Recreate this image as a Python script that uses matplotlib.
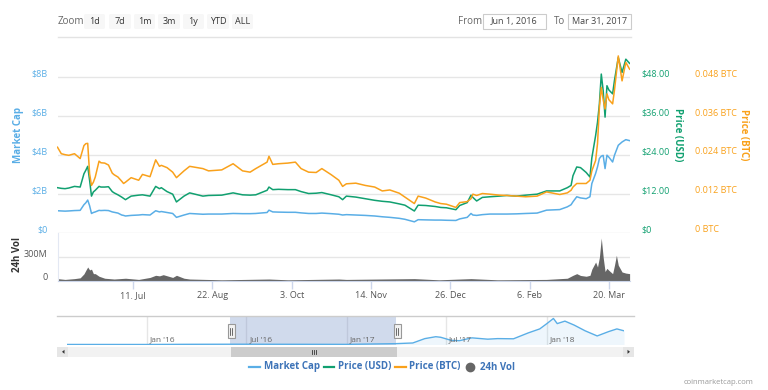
import numpy as np
import matplotlib
matplotlib.use('Agg')
import matplotlib.pyplot as plt
import matplotlib.dates as mdates
from matplotlib.patches import FancyBboxPatch, Rectangle, Polygon
from matplotlib.lines import Line2D
from matplotlib.transforms import ScaledTranslation, blended_transform_factory

plt.rcParams['font.family'] = ['Open Sans', 'DejaVu Sans']

# --- data ---
dates = ['2016-06-01', '2016-06-03', '2016-06-05', '2016-06-07', '2016-06-10', '2016-06-13',
         '2016-06-15', '2016-06-16', '2016-06-17', '2016-06-18', '2016-06-19', '2016-06-20',
         '2016-06-21', '2016-06-23', '2016-06-24', '2016-06-26', '2016-06-28', '2016-06-30',
         '2016-07-01', '2016-07-03', '2016-07-05', '2016-07-06', '2016-07-07', '2016-07-10',
         '2016-07-14', '2016-07-16', '2016-07-20', '2016-07-23', '2016-07-25', '2016-07-26',
         '2016-07-29', '2016-08-01', '2016-08-03', '2016-08-07', '2016-08-10', '2016-08-17',
         '2016-08-20', '2016-08-27', '2016-09-02', '2016-09-07', '2016-09-11', '2016-09-14',
         '2016-09-20', '2016-09-21', '2016-09-23', '2016-09-26', '2016-10-01', '2016-10-05',
         '2016-10-08', '2016-10-12', '2016-10-16', '2016-10-19', '2016-10-24', '2016-10-28',
         '2016-10-30', '2016-11-01', '2016-11-06', '2016-11-11', '2016-11-16', '2016-11-20',
         '2016-11-24', '2016-11-29', '2016-12-02', '2016-12-07', '2016-12-09', '2016-12-13',
         '2016-12-18', '2016-12-21', '2016-12-24', '2016-12-29', '2016-12-31', '2017-01-04',
         '2017-01-06', '2017-01-07', '2017-01-09', '2017-01-12', '2017-01-16', '2017-01-21',
         '2017-01-25', '2017-01-30', '2017-02-04', '2017-02-10', '2017-02-15', '2017-02-22',
         '2017-02-26', '2017-02-28', '2017-03-01', '2017-03-03', '2017-03-05', '2017-03-08',
         '2017-03-10', '2017-03-11', '2017-03-13', '2017-03-14', '2017-03-15', '2017-03-16',
         '2017-03-17', '2017-03-18', '2017-03-19', '2017-03-20', '2017-03-22', '2017-03-23',
         '2017-03-25', '2017-03-27', '2017-03-29', '2017-03-31']
market_cap_b = [1.13, 1.12, 1.11, 1.12, 1.14, 1.15, 1.44, 1.54, 1.68, 1.39, 0.99, 1.04,
                1.07, 1.15, 1.14, 1.15, 1.14, 1.07, 1.05, 1.01, 0.91, 0.89, 0.86, 0.89,
                0.91, 0.93, 0.91, 1.13, 1.07, 1.09, 1.04, 0.99, 0.79, 0.91, 0.99, 0.95,
                0.96, 0.96, 0.99, 0.98, 0.98, 0.99, 1.04, 1.16, 1.07, 1.06, 1.05, 1.05,
                1.02, 0.99, 0.99, 1.01, 0.98, 0.95, 0.91, 0.93, 0.91, 0.89, 0.86, 0.82,
                0.79, 0.74, 0.69, 0.56, 0.67, 0.66, 0.65, 0.65, 0.64, 0.63, 0.71, 0.79,
                0.99, 0.91, 0.89, 0.93, 0.96, 0.96, 0.96, 0.97, 0.99, 1.01, 1.16, 1.19,
                1.33, 1.44, 1.59, 1.85, 1.79, 1.75, 1.85, 2.53, 3.05, 3.39, 3.82, 3.94,
                3.98, 3.30, 3.99, 3.89, 3.64, 3.99, 4.50, 4.67, 4.79, 4.74]
price_usd = [13.9, 13.7, 13.6, 13.8, 14.3, 14.1, 18.2, 19.3, 20.5, 16.2, 11.3, 12.6,
             13.1, 14.3, 14.1, 14.1, 14.2, 12.7, 12.3, 11.7, 11.0, 10.6, 10.2, 11.3,
             11.6, 11.7, 11.3, 14.3, 13.6, 13.9, 12.7, 11.9, 9.5, 11.3, 12.3, 11.3,
             11.5, 11.6, 12.3, 11.7, 11.6, 11.7, 13.1, 14.1, 13.3, 13.4, 13.3, 13.3,
             12.7, 12.1, 12.2, 12.4, 11.7, 11.1, 10.2, 11.3, 11.0, 10.5, 10.0, 9.7,
             9.5, 8.9, 8.5, 6.7, 8.5, 8.4, 8.1, 7.8, 7.7, 7.1, 8.4, 9.3,
             11.6, 10.9, 9.8, 10.9, 11.1, 11.3, 11.5, 11.3, 11.6, 11.9, 12.9, 12.9,
             13.9, 14.6, 17.6, 20.3, 20.1, 18.6, 17.2, 23.1, 30.0, 34.1, 39.8, 49.0,
             43.9, 35.7, 45.4, 44.1, 42.9, 47.1, 54.1, 49.5, 53.6, 52.3]
price_btc = [0.0264, 0.0244, 0.0241, 0.0239, 0.0244, 0.0229, 0.0269, 0.0275, 0.0276, 0.0182, 0.0146, 0.0156,
             0.0172, 0.0221, 0.0216, 0.0215, 0.0209, 0.0184, 0.0179, 0.0172, 0.0159, 0.0152, 0.0156, 0.0170,
             0.0162, 0.0180, 0.0173, 0.0225, 0.0205, 0.0208, 0.0201, 0.0187, 0.0170, 0.0191, 0.0205, 0.0198,
             0.0191, 0.0194, 0.0213, 0.0191, 0.0187, 0.0198, 0.0218, 0.0236, 0.0211, 0.0213, 0.0215, 0.0218,
             0.0198, 0.0187, 0.0186, 0.0198, 0.0179, 0.0162, 0.0143, 0.0151, 0.0153, 0.0146, 0.0141, 0.0129,
             0.0132, 0.0122, 0.0110, 0.0090, 0.0113, 0.0107, 0.0095, 0.0090, 0.0088, 0.0078, 0.0093, 0.0096,
             0.0105, 0.0119, 0.0115, 0.0121, 0.0119, 0.0116, 0.0115, 0.0113, 0.0111, 0.0113, 0.0126, 0.0118,
             0.0123, 0.0131, 0.0141, 0.0152, 0.0152, 0.0152, 0.0162, 0.0191, 0.0223, 0.0275, 0.0387, 0.0449,
             0.0411, 0.0382, 0.0429, 0.0411, 0.0398, 0.0441, 0.0546, 0.0469, 0.0526, 0.0505]

vol_dates = ['2016-06-01', '2016-06-05', '2016-06-10', '2016-06-13', '2016-06-15', '2016-06-16',
             '2016-06-17', '2016-06-18', '2016-06-19', '2016-06-20', '2016-06-21', '2016-06-23',
             '2016-06-26', '2016-07-01', '2016-07-07', '2016-07-14', '2016-07-20', '2016-07-23',
             '2016-07-25', '2016-07-27', '2016-08-01', '2016-08-03', '2016-08-07', '2016-08-10',
             '2016-08-27', '2016-09-21', '2016-10-01', '2016-10-28', '2016-11-01', '2016-12-07',
             '2016-12-20', '2017-01-06', '2017-01-20', '2017-02-15', '2017-02-26', '2017-03-01',
             '2017-03-03', '2017-03-05', '2017-03-08', '2017-03-10', '2017-03-11', '2017-03-13',
             '2017-03-14', '2017-03-15', '2017-03-16', '2017-03-17', '2017-03-18', '2017-03-19',
             '2017-03-20', '2017-03-22', '2017-03-23', '2017-03-24', '2017-03-25', '2017-03-27',
             '2017-03-29', '2017-03-31']
volume_m = [30, 20, 30, 40, 90, 135, 177, 140, 150, 93, 93, 60,
            35, 25, 35, 20, 45, 72, 65, 80, 45, 72, 35, 25,
            15, 25, 15, 25, 20, 30, 15, 30, 15, 20, 35, 72,
            93, 70, 60, 72, 150, 240, 177, 300, 544, 300, 120, 160,
            135, 93, 200, 325, 200, 114, 100, 93]

nav_dates = ['2015-08-08', '2016-01-01', '2016-03-15', '2016-06-17', '2016-12-31', '2017-03-31',
             '2017-05-01', '2017-05-23', '2017-06-12', '2017-06-21', '2017-07-10', '2017-07-25',
             '2017-08-17', '2017-09-15', '2017-10-03', '2017-11-01', '2017-11-28', '2017-12-19',
             '2018-01-02', '2018-01-13', '2018-01-20', '2018-02-03', '2018-02-20', '2018-03-12',
             '2018-04-03', '2018-04-24', '2018-05-09', '2018-05-22']
nav_cap_b = [0.2, 0.1, 1.0, 1.5, 0.7, 4.5, 8, 31, 41, 38, 22, 20,
             35, 28, 31, 30, 61, 82, 112, 137, 110, 123, 102, 72,
             45, 68, 82, 72]

x_ticks = ['2016-07-11', '2016-08-22', '2016-10-03', '2016-11-14', '2016-12-26', '2017-02-06', '2017-03-20']
x_tick_labels = ['11. Jul', '22. Aug', '3. Oct', '14. Nov', '26. Dec', '6. Feb', '20. Mar']
nav_ticks = ['2016-01-01', '2016-07-01', '2017-01-01', '2017-07-01', '2018-01-01']
nav_tick_labels = ["Jan '16", "Jul '16", "Jan '17", "Jul '17", "Jan '18"]
zoom_buttons = ['1d', '7d', '1m', '3m', '1y', 'YTD', 'ALL']

BLUE = '#5aaee6'
GREEN = '#11a070'
ORANGE = '#f9a11b'
GRID = '#e6e6e6'

W, H = 768, 390


def to_num(ds):
    return mdates.date2num(np.array(ds, dtype='datetime64[h]'))


def fx(x):
    return x / W


def fy(y):
    return 1 - y / H


fig = plt.figure(figsize=(W / 100, H / 100), dpi=100)


def px_axes(l, t, r, b):
    return fig.add_axes([fx(l), fy(b), (r - l) / W, (b - t) / H])


def lift_labels(labels, px=4):
    for lbl in labels:
        lbl.set_transform(lbl.get_transform() + ScaledTranslation(0, px / 100, fig.dpi_scale_trans))


x_main = to_num(dates)
xlim = (to_num(['2016-06-01T00'])[0], to_num(['2017-03-31T05'])[0])

# --- main price panel ---
k = (232.7 - 48) / (232.7 - 77.3)
ax = px_axes(57.5, 48, 630, 232.7)
ax_usd = ax.twinx()
ax_btc = ax.twinx()
ax_usd.set_position(ax.get_position())
ax_btc.set_position(ax.get_position())

ax.plot(x_main, market_cap_b, color=BLUE, lw=1.1)
ax_usd.plot(x_main, price_usd, color=GREEN, lw=1.1)
ax_btc.plot(x_main, price_btc, color=ORANGE, lw=1.1)

ax.set_ylim(0, 8 * k)
ax_usd.set_ylim(0, 48 * k)
ax_btc.set_ylim(0, 0.048 * k)
for a in (ax, ax_usd, ax_btc):
    a.set_xlim(*xlim)
    a.set_xticks([])
    for s in a.spines.values():
        s.set_visible(False)

ax.set_yticks([0, 2, 4, 6, 8])
ax.set_yticklabels(['$0', '$2B', '$4B', '$6B', '$8B'])
ax.tick_params(axis='y', length=0, pad=7, labelsize=6.5, labelcolor=BLUE)
ax.grid(axis='y', color=GRID, lw=1)
ax.set_axisbelow(True)

ax_usd.set_yticks([0, 12, 24, 36, 48])
ax_usd.set_yticklabels(['$0', '$12.00', '$24.00', '$36.00', '$48.00'])
ax_usd.tick_params(axis='y', length=0, pad=8, labelsize=6.5, labelcolor=GREEN)

ax_btc.set_yticks([0, 0.012, 0.024, 0.036, 0.048])
ax_btc.set_yticklabels(['0 BTC', '0.012 BTC', '0.024 BTC', '0.036 BTC', '0.048 BTC'])
ax_btc.tick_params(axis='y', length=0, pad=47, labelsize=6.5, labelcolor=ORANGE)

for a in (ax, ax_usd, ax_btc):
    lift_labels(a.get_yticklabels())

# --- volume panel ---
axv = px_axes(57.5, 232.7, 630, 281)
axv.fill_between(to_num(vol_dates), volume_m, color='#666666', lw=0)
axv.set_xlim(*xlim)
axv.set_ylim(0, 611)
axv.set_yticks([0, 300])
axv.set_yticklabels(['0', '300M'])
axv.tick_params(axis='y', length=0, pad=7, labelsize=6.5, labelcolor='#555555')
lift_labels(axv.get_yticklabels())
axv.grid(axis='y', color=GRID, lw=1)
axv.set_axisbelow(True)
axv.set_xticks(to_num(x_ticks))
axv.set_xticklabels(x_tick_labels)
axv.tick_params(axis='x', length=6, width=1, color='#ccd6eb', pad=1, labelsize=6.5, labelcolor='#555555')
for name, s in axv.spines.items():
    if name == 'bottom':
        s.set_color('#ccd6eb')
    elif name == 'left':
        s.set_color('#e3e8f3')
    else:
        s.set_visible(False)

# axis titles
fig.text(fx(18), fy(135), 'Market Cap', rotation=90, color=BLUE, fontsize=7, fontweight='bold',
         ha='center', va='center')
fig.text(fx(18), fy(255), '24h Vol', rotation=90, color='#333333', fontsize=7, fontweight='bold',
         ha='center', va='center')
fig.text(fx(677), fy(135), 'Price (USD)', rotation=270, color=GREEN, fontsize=7, fontweight='bold',
         ha='center', va='center')
fig.text(fx(743), fy(135), 'Price (BTC)', rotation=270, color=ORANGE, fontsize=7, fontweight='bold',
         ha='center', va='center')

# --- range selector bar ---
fig.text(fx(58), fy(21.5), 'Zoom', color='#666666', fontsize=7, va='center')
btn_x = [84, 109, 134, 158, 183, 207, 232]
btn_w = [21, 22, 21, 22, 21, 22, 21]
for bx, bw, label in zip(btn_x, btn_w, zoom_buttons):
    fig.add_artist(FancyBboxPatch((fx(bx), fy(29)), bw / W, 15 / H,
                                  boxstyle='round,pad=0,rounding_size=0.003',
                                  transform=fig.transFigure, fc='#f7f7f7', ec='none'))
    fig.text(fx(bx + bw / 2), fy(21.5), label, color='#333333', fontsize=6.5, ha='center', va='center')

fig.text(fx(458), fy(21.5), 'From', color='#666666', fontsize=7, va='center')
fig.text(fx(554), fy(21.5), 'To', color='#666666', fontsize=7, va='center')
for (l, r), txt in zip([(483, 546), (568, 631)], ['Jun 1, 2016', 'Mar 31, 2017']):
    fig.add_artist(Rectangle((fx(l), fy(29)), (r - l) / W, 15 / H, transform=fig.transFigure,
                             fc='white', ec='#cccccc', lw=0.8))
    fig.text(fx((l + r) / 2), fy(21.5), txt, color='#444444', fontsize=6.5, ha='center', va='center')
fig.add_artist(Line2D([fx(58), fx(631)], [fy(37), fy(37)], transform=fig.transFigure, color='#e3e3e3', lw=1))

# --- navigator ---
nav = px_axes(67, 316, 624, 344.5)
nx = to_num(nav_dates)
nav.fill_between(nx, nav_cap_b, color=BLUE, alpha=0.1, lw=0)
nav.plot(nx, nav_cap_b, color=BLUE, lw=1)
nav.set_xlim(to_num(['2015-08-08'])[0], to_num(['2018-05-22'])[0])
nav.set_ylim(0, 150)
nav.set_yticks([])
nav.set_xticks(to_num(nav_ticks))
nav.set_xticklabels([])
nav.tick_params(axis='x', length=0)
nav.grid(axis='x', color=GRID, lw=1)
nav.set_axisbelow(True)
for s in nav.spines.values():
    s.set_visible(False)
trans = blended_transform_factory(nav.transData, nav.transAxes)
for t, lbl in zip(to_num(nav_ticks), nav_tick_labels):
    nav.text(t, 0.16, lbl, transform=trans + ScaledTranslation(3 / 100, 0, fig.dpi_scale_trans),
             color='#666666', fontsize=6, va='center', ha='left')
nav.axvspan(xlim[0], xlim[1], color=(102 / 255, 133 / 255, 194 / 255, 0.3), lw=0)
fig.add_artist(Line2D([fx(57), fx(634)], [fy(316), fy(316)], transform=fig.transFigure, color='#cccccc', lw=1))

# handles
for hx in (231, 397):
    fig.add_artist(Rectangle((fx(hx - 3.5), fy(338)), 7 / W, 14 / H, transform=fig.transFigure,
                             fc='#f2f2f2', ec='#999999', lw=0.8))
    for dx in (-1, 1):
        fig.add_artist(Line2D([fx(hx + dx), fx(hx + dx)], [fy(327.5), fy(334.5)], transform=fig.transFigure,
                              color='#333333', lw=0.5))

# scrollbar
fig.add_artist(Rectangle((fx(57), fy(357)), 577 / W, 10.5 / H, transform=fig.transFigure, fc='#f2f2f2', ec='none'))
fig.add_artist(Rectangle((fx(231), fy(357)), 166 / W, 10.5 / H, transform=fig.transFigure, fc='#cccccc', ec='none'))
for gx in (312, 314, 316):
    fig.add_artist(Line2D([fx(gx), fx(gx)], [fy(349.5), fy(354)], transform=fig.transFigure, color='#333333', lw=0.6))
for bl, tri in [(57, [(62, 351.8), (64.5, 349.8), (64.5, 353.8)]), (623, [(630, 351.8), (627.5, 349.8), (627.5, 353.8)])]:
    fig.add_artist(Rectangle((fx(bl), fy(357)), 11 / W, 10.5 / H, transform=fig.transFigure, fc='#e6e6e6', ec='none'))
    fig.add_artist(Polygon([(fx(a), fy(b)) for a, b in tri], closed=True, transform=fig.transFigure,
                           fc='#333333', ec='none'))

# --- legend ---
LEG = '#3e74b8'
for (l, r), c, txt, tx in [((249, 260), BLUE, 'Market Cap', 264),
                           ((324, 334), GREEN, 'Price (USD)', 338),
                           ((395, 406), ORANGE, 'Price (BTC)', 409)]:
    fig.add_artist(Line2D([fx(l), fx(r)], [fy(367), fy(367)], transform=fig.transFigure, color=c, lw=1.6))
    fig.text(fx(tx), fy(367), txt, color=LEG, fontsize=7, fontweight='bold', va='center')
fig.add_artist(Line2D([fx(470)], [fy(367)], transform=fig.transFigure, marker='o', ms=6,
                      color='#666666', lw=0))
fig.text(fx(480), fy(367), '24h Vol', color=LEG, fontsize=7, fontweight='bold', va='center')
fig.text(fx(754), fy(382), 'coinmarketcap.com', color='#999999', fontsize=5.5, ha='right', va='center')

fig.savefig('out.png', dpi=100, facecolor='white')
